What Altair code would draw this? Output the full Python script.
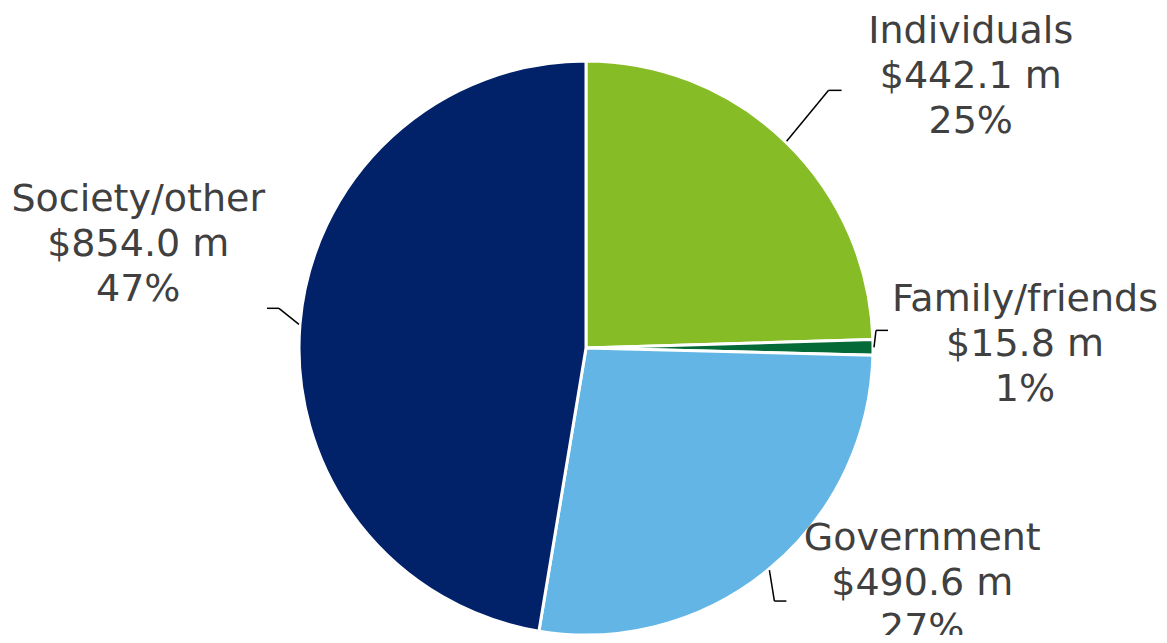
import altair as alt
import pandas as pd

# ---- data ----
categories = ["Individuals", "Family/friends", "Government", "Society/other"]
values = [442.1, 15.8, 490.6, 854.0]
colors = ["#86BC25", "#046A38", "#62B5E5", "#012169"]

# ---- layout (pixels) ----
W, H = 1151, 627
CX, CY, R = 578, 340, 287
LABEL_R = 360
LINE_H = 45
# leader kink offset (kx, ky) from slice edge, then horizontal tail hx
leader_kx = [42, 2, 5, -20]
leader_ky = [-51, -17, 31, -16]
leader_hx = [13, 12, 12, -12]
# label shift (of the block centre) from the point at LABEL_R on the slice mid-angle
label_dx = [134, 79, 107, -89]
label_dy = [-13, -2, -42, -73]

df = pd.DataFrame({
    "category": categories,
    "value": values,
    "idx": list(range(len(categories))),
    "kx": leader_kx, "ky": leader_ky, "hx": leader_hx,
    "ldx": label_dx, "ldy": label_dy,
})

base = alt.Chart(df)

pie = base.mark_arc(radius=R, stroke="white", strokeWidth=3).encode(
    theta=alt.Theta("value:Q", stack=True),
    color=alt.Color("category:N", scale=alt.Scale(domain=categories, range=colors), legend=None),
    order=alt.Order("idx:Q"),
    x=alt.value(CX),
    y=alt.value(CY),
)

geo = base.transform_joinaggregate(total="sum(value)").transform_window(
    cum="sum(value)", sort=[alt.SortField("idx")], frame=[None, 0]
).transform_calculate(
    mid="(datum.cum - datum.value/2) / datum.total * 2 * PI",
).transform_calculate(
    x0=f"{CX} + {R + 1} * sin(datum.mid)",
    y0=f"{CY} - {R + 1} * cos(datum.mid)",
).transform_calculate(
    x1="datum.x0 + datum.kx",
    y1="datum.y0 + datum.ky",
).transform_calculate(
    x2="datum.x1 + datum.hx",
    tx=f"{CX} + {LABEL_R} * sin(datum.mid) + datum.ldx",
    ty=f"{CY} - {LABEL_R} * cos(datum.mid) + datum.ldy - {LINE_H}",
    label="datum.category + '\\n$' + format(datum.value, '.1f') + ' m\\n' + format(datum.value / datum.total, '.0%')",
)

lead1 = geo.mark_rule(color="black", strokeWidth=1.5).encode(
    x=alt.X("x0:Q", scale=None, axis=None),
    y=alt.Y("y0:Q", scale=None, axis=None),
    x2="x1:Q",
    y2="y1:Q",
)
lead2 = geo.mark_rule(color="black", strokeWidth=1.5).encode(
    x=alt.X("x1:Q", scale=None, axis=None),
    y=alt.Y("y1:Q", scale=None, axis=None),
    x2="x2:Q",
    y2="y1:Q",
)

text = geo.mark_text(
    font="DejaVu Sans", fontSize=38, color="#404040",
    lineBreak="\n", lineHeight=LINE_H, align="center", baseline="middle",
).encode(
    x=alt.X("tx:Q", scale=None, axis=None),
    y=alt.Y("ty:Q", scale=None, axis=None),
    text="label:N",
)

chart = alt.layer(pie, lead1, lead2, text).properties(
    width=W, height=H, autosize=alt.AutoSizeParams(type="none"), padding=0,
).configure_view(stroke=None)

chart.save("out.html", embed_options={"renderer": "svg", "actions": False})
